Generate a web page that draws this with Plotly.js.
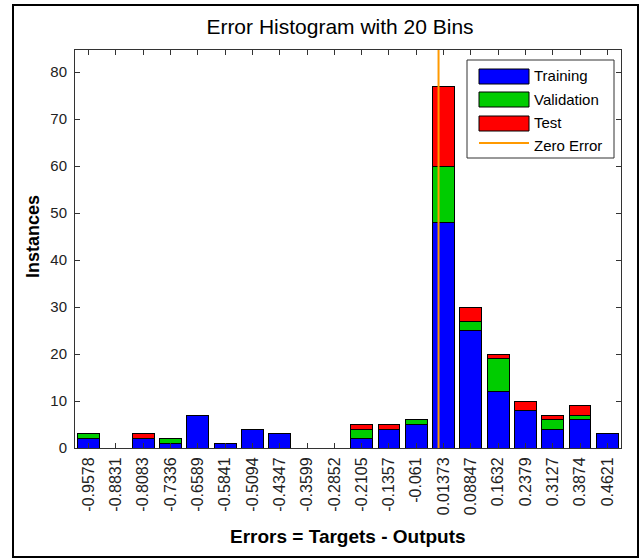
<!DOCTYPE html>
<html>
<head>
<meta charset="utf-8">
<script src="https://cdn.plot.ly/plotly-3.0.1.min.js"></script>
<style>
html,body{margin:0;padding:0;background:#fff;}
#chart{width:640px;height:559px;}
</style>
</head>
<body>
<div id="chart"></div>
<script>
// Bin centre labels (as shown on the x axis)
const binLabels = ["-0.9578","-0.8831","-0.8083","-0.7336","-0.6589","-0.5841","-0.5094","-0.4347","-0.3599","-0.2852","-0.2105","-0.1357","-0.061","0.01373","0.08847","0.1632","0.2379","0.3127","0.3874","0.4621"];
// Instances per bin
const training   = [2,0,2,1,7,1,4,3,0,0,2,4,5,48,25,12,8,4,6,3];
const validation = [1,0,0,1,0,0,0,0,0,0,2,0,1,12,2,7,0,2,1,0];
const test       = [0,0,1,0,0,0,0,0,0,0,1,1,0,17,3,1,2,1,2,0];
const zeroError = 0;
const yMax = 84.7;

const binCenters = binLabels.map(parseFloat);
const binStep = (binCenters[binCenters.length-1]-binCenters[0])/(binCenters.length-1);

const edge = {color:'#000', width:1};
const mk = (name, y, color) => ({
  type:'bar', name, x: binCenters, y, width: binStep*0.8,
  marker:{color, line:edge}, showlegend:false, hoverinfo:'y'
});

const data = [
  mk('Training', training, '#0000FF'),
  mk('Validation', validation, '#00CC00'),
  mk('Test', test, '#FF0000'),
  {type:'scatter', mode:'lines', name:'Zero Error', x:[zeroError, zeroError], y:[0, yMax],
   line:{color:'#FF9900', width:2}, showlegend:false, hoverinfo:'skip'}
];

// geometry helpers for paper coords
const L=75, R=621, T=50, B=448;
const px = v => (v - L)/(R - L);
const py = v => (B - v)/(B - T);
const FONT = 'Liberation Sans, Arial, sans-serif';

const shapes = [
  // outer figure border
  {type:'rect', xref:'paper', yref:'paper', x0:px(13), x1:px(638), y0:py(557), y1:py(5), line:{color:'#000', width:2}, layer:'below'},
  // legend box
  {type:'rect', xref:'paper', yref:'paper', x0:px(467), x1:px(614), y0:py(158), y1:py(60), line:{color:'#333', width:1}, fillcolor:'#fff'},
  {type:'rect', xref:'paper', yref:'paper', x0:px(479), x1:px(529), y0:py(84), y1:py(69), line:{color:'#000', width:1}, fillcolor:'#0000FF'},
  {type:'rect', xref:'paper', yref:'paper', x0:px(479), x1:px(529), y0:py(107), y1:py(92), line:{color:'#000', width:1}, fillcolor:'#00CC00'},
  {type:'rect', xref:'paper', yref:'paper', x0:px(479), x1:px(529), y0:py(131), y1:py(116), line:{color:'#000', width:1}, fillcolor:'#FF0000'},
  {type:'line', xref:'paper', yref:'paper', x0:px(479), x1:px(529), y0:py(143), y1:py(143), line:{color:'#FF9900', width:2}}
];

const legFont = {family:FONT, size:15, color:'#000'};
const legItems = [['Training',76],['Validation',99],['Test',123],['Zero Error',145]];
const annotations = legItems.map(([t,y]) => ({
  xref:'paper', yref:'paper', x:px(532), y:py(y), text:t, showarrow:false,
  xanchor:'left', yanchor:'middle', font:legFont
}));
// axis titles
annotations.push({xref:'paper', yref:'paper', x:px(348), y:py(536), text:'<b>Errors = Targets - Outputs</b>',
  showarrow:false, xanchor:'center', yanchor:'middle', font:{family:FONT, size:19, color:'#000'}});
annotations.push({xref:'paper', yref:'paper', x:px(33), y:py(237), text:'<b>Instances</b>', textangle:-90,
  showarrow:false, xanchor:'center', yanchor:'middle', font:{family:FONT, size:18, color:'#000'}});

const axisCommon = {
  showline:true, linecolor:'#333', linewidth:1, mirror:'ticks',
  ticks:'inside', ticklen:5, tickcolor:'#333', tickwidth:1,
  showgrid:false, zeroline:false,
  tickfont:{family:FONT, size:15, color:'#222'}
};

const layout = {
  width:640, height:559,
  margin:{l:L, r:640-R, t:T, b:559-B},
  paper_bgcolor:'#fff', plot_bgcolor:'#fff',
  barmode:'stack', bargap:0,
  showlegend:false,
  title:{text:'Error Histogram with 20 Bins', x:340/640, xanchor:'center', y:1-27/559, yanchor:'middle',
         font:{family:FONT, size:21, color:'#000'}},
  xaxis: Object.assign({}, axisCommon, {
    range:[binCenters[0]-binStep/2, binCenters[binCenters.length-1]+binStep/2],
    tickmode:'array', tickvals:binCenters, ticktext:binLabels, tickangle:-90,
    tickfont:{family:FONT, size:16, color:'#222'},
    ticklabelstandoff:2
  }),
  yaxis: Object.assign({}, axisCommon, {
    range:[0, yMax], tickmode:'linear', tick0:0, dtick:10, ticklabelstandoff:4
  }),
  shapes, annotations
};

Plotly.newPlot('chart', data, layout, {displayModeBar:false, staticPlot:true});
</script>
</body>
</html>
